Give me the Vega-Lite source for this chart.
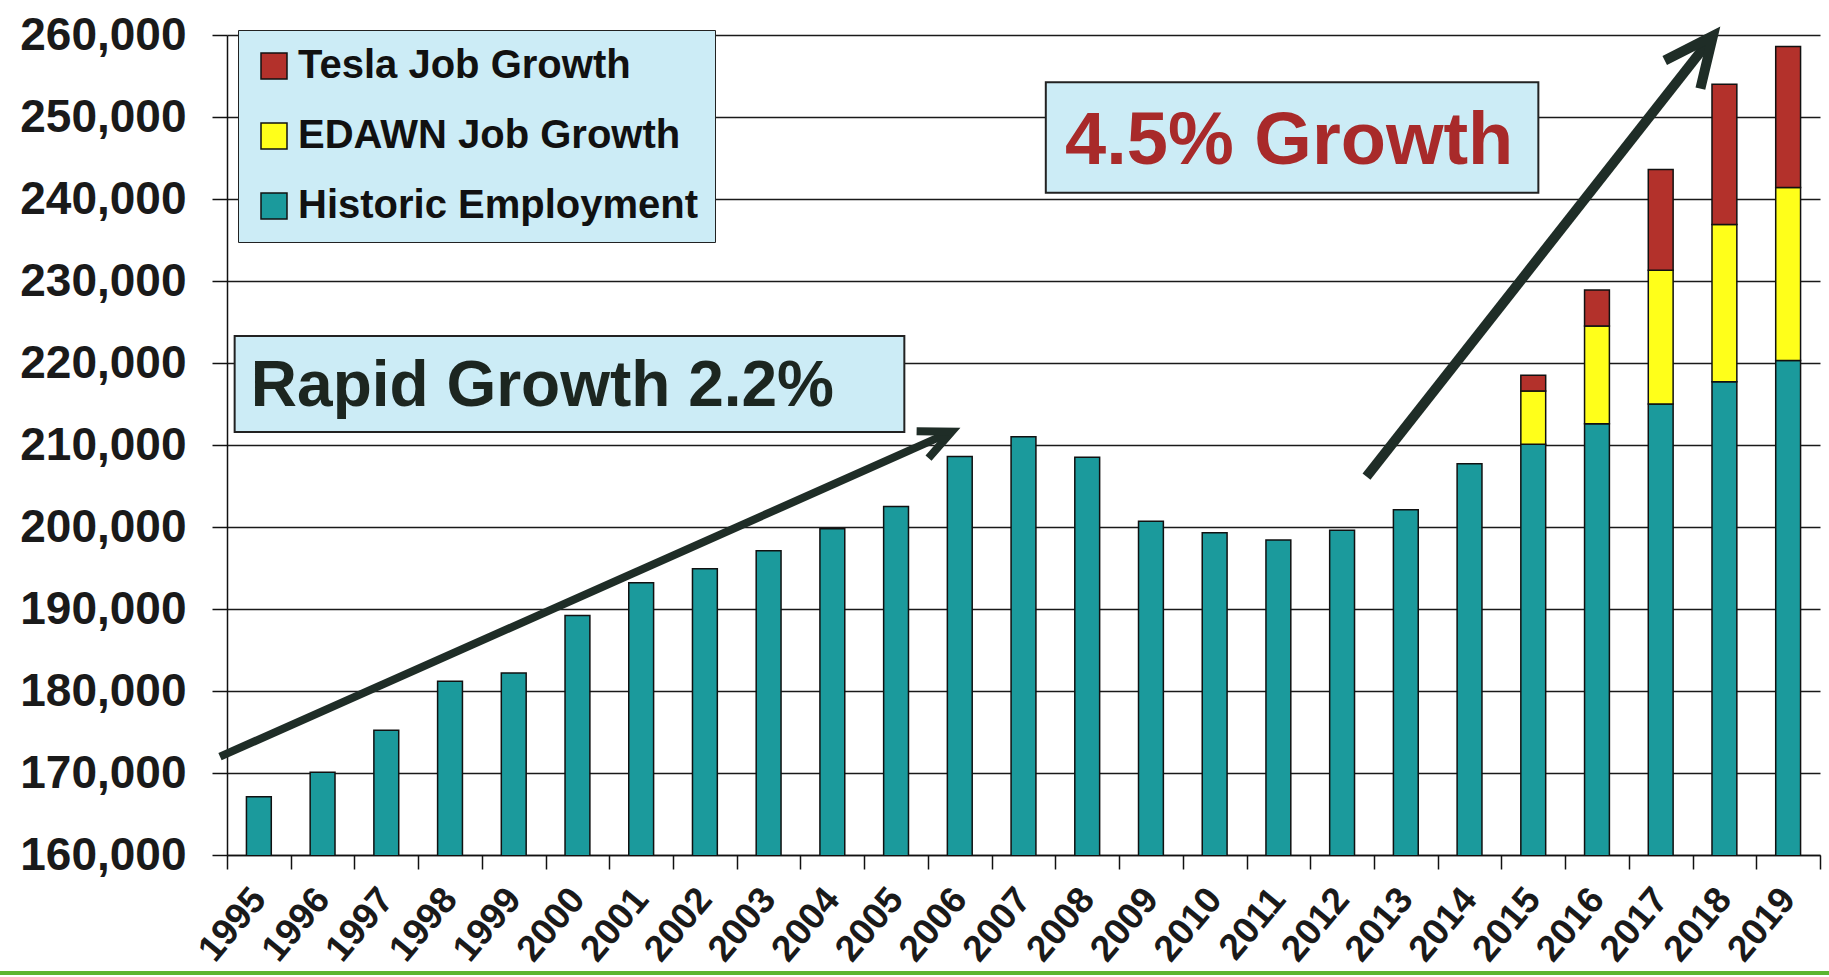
{
  "$schema": "https://vega.github.io/schema/vega-lite/v6.json",
  "width": 1593,
  "height": 820,
  "autosize": "none",
  "padding": {"left": 227, "top": 35, "right": 9, "bottom": 122},
  "background": "white",
  "config": {
    "view": {"stroke": null},
    "font": "Liberation Sans"
  },
  "layer": [
    {
      "data": {
        "values": [
          {"year": "1995", "series": "Historic Employment", "jobs": 167100},
          {"year": "1996", "series": "Historic Employment", "jobs": 170100},
          {"year": "1997", "series": "Historic Employment", "jobs": 175200},
          {"year": "1998", "series": "Historic Employment", "jobs": 181200},
          {"year": "1999", "series": "Historic Employment", "jobs": 182200},
          {"year": "2000", "series": "Historic Employment", "jobs": 189200},
          {"year": "2001", "series": "Historic Employment", "jobs": 193200},
          {"year": "2002", "series": "Historic Employment", "jobs": 194900},
          {"year": "2003", "series": "Historic Employment", "jobs": 197100},
          {"year": "2004", "series": "Historic Employment", "jobs": 199800},
          {"year": "2005", "series": "Historic Employment", "jobs": 202500},
          {"year": "2006", "series": "Historic Employment", "jobs": 208600},
          {"year": "2007", "series": "Historic Employment", "jobs": 211000},
          {"year": "2008", "series": "Historic Employment", "jobs": 208500},
          {"year": "2009", "series": "Historic Employment", "jobs": 200700},
          {"year": "2010", "series": "Historic Employment", "jobs": 199300},
          {"year": "2011", "series": "Historic Employment", "jobs": 198400},
          {"year": "2012", "series": "Historic Employment", "jobs": 199600},
          {"year": "2013", "series": "Historic Employment", "jobs": 202100},
          {"year": "2014", "series": "Historic Employment", "jobs": 207700},
          {"year": "2015", "series": "Historic Employment", "jobs": 210100},
          {"year": "2016", "series": "Historic Employment", "jobs": 212600},
          {"year": "2017", "series": "Historic Employment", "jobs": 215000},
          {"year": "2018", "series": "Historic Employment", "jobs": 217700},
          {"year": "2019", "series": "Historic Employment", "jobs": 220300},
          {"year": "2015", "series": "EDAWN Job Growth", "jobs": 6500},
          {"year": "2016", "series": "EDAWN Job Growth", "jobs": 11900},
          {"year": "2017", "series": "EDAWN Job Growth", "jobs": 16300},
          {"year": "2018", "series": "EDAWN Job Growth", "jobs": 19200},
          {"year": "2019", "series": "EDAWN Job Growth", "jobs": 21100},
          {"year": "2015", "series": "Tesla Job Growth", "jobs": 1900},
          {"year": "2016", "series": "Tesla Job Growth", "jobs": 4400},
          {"year": "2017", "series": "Tesla Job Growth", "jobs": 12300},
          {"year": "2018", "series": "Tesla Job Growth", "jobs": 17100},
          {"year": "2019", "series": "Tesla Job Growth", "jobs": 17200}
        ]
      },
      "transform": [
        {"calculate": "indexof(['Historic Employment','EDAWN Job Growth','Tesla Job Growth'], datum.series)", "as": "ord"}
      ],
      "mark": {"type": "bar", "clip": true, "stroke": "#111111", "strokeWidth": 1.5, "width": {"band": 0.39}},
      "encoding": {
        "x": {
          "field": "year",
          "type": "ordinal",
          "scale": {"type": "band", "paddingInner": 0, "paddingOuter": 0},
          "axis": {
            "title": null,
            "labelAngle": -50,
            "labelAlign": "right",
            "labelBaseline": "middle",
            "labelFont": "Liberation Sans",
            "labelFontSize": 37,
            "labelFontWeight": "bold",
            "labelColor": "#1a1a1a",
            "labelPadding": 24,
            "tickBand": "extent",
            "tickSize": 14,
            "tickColor": "#111111",
            "tickWidth": 1.5,
            "domainColor": "#111111",
            "domainWidth": 1.5,
            "grid": false
          }
        },
        "y": {
          "field": "jobs",
          "type": "quantitative",
          "stack": "zero",
          "scale": {"domain": [160000, 260000], "nice": false, "zero": false},
          "axis": {
            "title": null,
            "values": [160000, 170000, 180000, 190000, 200000, 210000, 220000, 230000, 240000, 250000, 260000],
            "format": ",d",
            "labelFont": "Liberation Sans",
            "labelFontSize": 46,
            "labelFontWeight": "bold",
            "labelColor": "#1a1a1a",
            "labelPadding": 26,
            "tickSize": 15,
            "tickColor": "#111111",
            "tickWidth": 1.5,
            "domainColor": "#111111",
            "domainWidth": 1.5,
            "grid": true,
            "gridColor": "#1a1a1a",
            "gridWidth": 1.5
          }
        },
        "color": {
          "field": "series",
          "type": "nominal",
          "scale": {
            "domain": ["Tesla Job Growth", "EDAWN Job Growth", "Historic Employment"],
            "range": ["#b3312b", "#ffff1a", "#1b9a9c"]
          },
          "legend": {
            "title": null,
            "orient": "none",
            "legendX": 11,
            "legendY": -5,
            "fillColor": "#ccecf6",
            "strokeColor": "#222222",
            "padding": 16,
            "labelFont": "Liberation Sans",
            "labelFontSize": 40,
            "labelFontWeight": "bold",
            "labelColor": "#111111",
            "labelOffset": 4,
            "labelLimit": 700,
            "symbolType": "square",
            "symbolSize": 676,
            "symbolStrokeColor": "#111111",
            "symbolStrokeWidth": 1.5,
            "symbolOpacity": 1,
            "rowPadding": 30
          }
        },
        "order": {"field": "ord", "type": "quantitative"}
      }
    },
    {
      "data": {"values": [{}]},
      "layer": [
        {
          "mark": {"type": "rect", "fill": "#ccecf6", "stroke": "#222222", "strokeWidth": 2},
          "encoding": {
            "x": {"datum": 1994.62, "type": "quantitative", "scale": {"domain": [1994.5, 2019.5], "nice": false, "zero": false}, "axis": null},
            "x2": {"datum": 2005.13},
            "y": {"datum": 223290, "type": "quantitative", "scale": {"domain": [160000, 260000], "nice": false, "zero": false}, "title": null},
            "y2": {"datum": 211590}
          }
        },
        {
          "mark": {"type": "rect", "fill": "#ccecf6", "stroke": "#222222", "strokeWidth": 2},
          "encoding": {
            "x": {"datum": 2007.35, "type": "quantitative", "scale": {"domain": [1994.5, 2019.5], "nice": false, "zero": false}, "axis": null},
            "x2": {"datum": 2015.08},
            "y": {"datum": 254230, "type": "quantitative", "scale": {"domain": [160000, 260000], "nice": false, "zero": false}, "title": null},
            "y2": {"datum": 240770}
          }
        },
        {
          "mark": {"type": "text", "text": "Rapid Growth 2.2%", "font": "Liberation Sans", "fontWeight": "bold", "fontSize": 64, "color": "#1c2620", "align": "center", "baseline": "alphabetic"},
          "encoding": {
            "x": {"datum": 1999.45, "type": "quantitative", "scale": {"domain": [1994.5, 2019.5], "nice": false, "zero": false}, "axis": null},
            "y": {"datum": 214760, "type": "quantitative", "scale": {"domain": [160000, 260000], "nice": false, "zero": false}, "title": null}
          }
        },
        {
          "mark": {"type": "text", "text": "4.5% Growth", "font": "Liberation Sans", "fontWeight": "bold", "fontSize": 74, "color": "#a82a2a", "align": "center", "baseline": "alphabetic"},
          "encoding": {
            "x": {"datum": 2011.17, "type": "quantitative", "scale": {"domain": [1994.5, 2019.5], "nice": false, "zero": false}, "axis": null},
            "y": {"datum": 244230, "type": "quantitative", "scale": {"domain": [160000, 260000], "nice": false, "zero": false}, "title": null}
          }
        },
        {
          "mark": {"type": "rule", "color": "#1f2d27", "strokeWidth": 8, "opacity": 1},
          "encoding": {
            "x": {"datum": 1994.39, "type": "quantitative", "scale": {"domain": [1994.5, 2019.5], "nice": false, "zero": false}, "axis": null},
            "x2": {"datum": 2005.873},
            "y": {"datum": 171990, "type": "quantitative", "scale": {"domain": [160000, 260000], "nice": false, "zero": false}, "title": null},
            "y2": {"datum": 211620}
          }
        },
        {
          "mark": {"type": "point", "shape": "M-0.42,0.91L0,0L0.42,0.91", "filled": false, "stroke": "#1f2d27", "strokeWidth": 8, "size": 4900, "angle": 66.1, "strokeJoin": "miter", "strokeCap": "butt", "opacity": 1},
          "encoding": {
            "x": {"datum": 2005.873, "type": "quantitative", "scale": {"domain": [1994.5, 2019.5], "nice": false, "zero": false}, "axis": null},
            "y": {"datum": 211620, "type": "quantitative", "scale": {"domain": [160000, 260000], "nice": false, "zero": false}, "title": null}
          }
        },
        {
          "mark": {"type": "rule", "color": "#1f2d27", "strokeWidth": 10, "opacity": 1},
          "encoding": {
            "x": {"datum": 2012.383, "type": "quantitative", "scale": {"domain": [1994.5, 2019.5], "nice": false, "zero": false}, "axis": null},
            "x2": {"datum": 2017.82},
            "y": {"datum": 206135, "type": "quantitative", "scale": {"domain": [160000, 260000], "nice": false, "zero": false}, "title": null},
            "y2": {"datum": 259880}
          }
        },
        {
          "mark": {"type": "point", "shape": "M-0.42,0.91L0,0L0.42,0.91", "filled": false, "stroke": "#1f2d27", "strokeWidth": 10, "size": 11664, "angle": 38.2, "strokeJoin": "miter", "strokeCap": "butt", "opacity": 1},
          "encoding": {
            "x": {"datum": 2017.82, "type": "quantitative", "scale": {"domain": [1994.5, 2019.5], "nice": false, "zero": false}, "axis": null},
            "y": {"datum": 259880, "type": "quantitative", "scale": {"domain": [160000, 260000], "nice": false, "zero": false}, "title": null}
          }
        },
        {
          "mark": {"type": "rule", "color": "#5cb531", "strokeWidth": 4, "opacity": 1},
          "encoding": {
            "x": {"datum": 1990.9, "type": "quantitative", "scale": {"domain": [1994.5, 2019.5], "nice": false, "zero": false}, "axis": null},
            "x2": {"datum": 2019.7},
            "y": {"datum": 145610, "type": "quantitative", "scale": {"domain": [160000, 260000], "nice": false, "zero": false}, "title": null}
          }
        }
      ]
    }
  ],
  "resolve": {"scale": {"x": "independent"}, "axis": {"x": "independent"}}
}
